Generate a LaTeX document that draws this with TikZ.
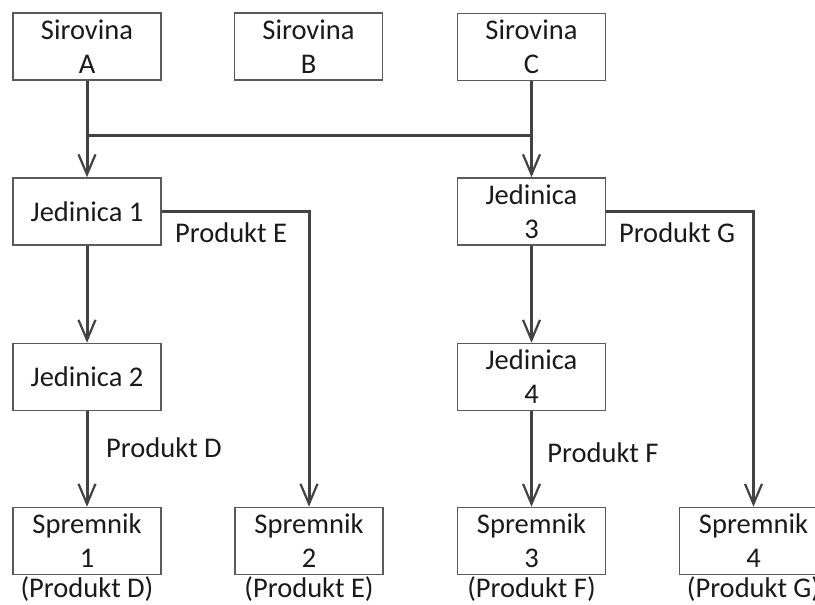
\documentclass[tikz,border=0pt]{standalone}
\usepackage{fontspec}
\setmainfont{Carlito}
\usetikzlibrary{arrows.meta}
\definecolor{boxgray}{HTML}{5A5A5A}
\definecolor{linegray}{HTML}{424242}
\definecolor{txt}{HTML}{1A1A1A}
\begin{document}
\begin{tikzpicture}[x=1pt,y=-1pt,
  box/.style={draw=boxgray, line width=1.6pt, minimum width=148pt, minimum height=67pt,
    inner sep=0pt, align=center, font=\fontsize{28.5}{34}\selectfont, text=txt},
  lbl/.style={inner sep=0pt, font=\fontsize{28.5}{34}\selectfont, text=txt},
  conn/.style={draw=linegray, line width=3pt},
  arr/.style={conn, -{Straight Barb[length=20pt,width=17pt,line width=2.2pt]}}]
\useasboundingbox (0,0) rectangle (815,605);
\clip (0,0) rectangle (815,605);
\fill[white] (0,0) rectangle (815,605);
% boxes
\node[box] (A) at (87,46.5) {Sirovina\\A};
\node[box] (B) at (308.5,46.5) {Sirovina\\B};
\node[box] (C) at (531.5,47) {Sirovina\\C};
\node[box] (J1) at (87,211.5) {Jedinica 1};
\node[box] (J3) at (531.5,211.5) {Jedinica\\3};
\node[box] (J2) at (87,377) {Jedinica 2};
\node[box] (J4) at (531.5,377) {Jedinica\\4};
\node[box] (S1) at (87,541) {Spremnik\\1};
\node[box] (S2) at (309,541) {Spremnik\\2};
\node[box] (S3) at (531.5,541) {Spremnik\\3};
\node[box] (S4) at (753.5,541) {Spremnik\\4};
% captions
\node[lbl] (c1) at (87,589) {(Produkt D)};
\node[lbl] (c2) at (309,589) {(Produkt E)};
\node[lbl] (c3) at (531.5,589) {(Produkt F)};
\node[lbl] (c4) at (753.5,589) {(Produkt G)};
% connector labels
\node[lbl] (lE) at (231,233) {Produkt E};
\node[lbl] (lG) at (677,233) {Produkt G};
\node[lbl] (lD) at (164,448) {Produkt D};
\node[lbl] (lF) at (603,453) {Produkt F};
% connectors
\coordinate (h) at (0,135);
\draw[arr] (A) -- (J1);
\draw[arr] (C) -- (J3);
\draw[conn] (A.south |- h) -- (C.south |- h);
\draw[arr] (J1) -- (J2);
\draw[arr] (J2) -- (S1);
\draw[arr] (J3) -- (J4);
\draw[arr] (J4) -- (S3);
\draw[arr] (J1.east) -| (S2.north);
\draw[arr] (J3.east) -| (S4.north);
\end{tikzpicture}
\end{document}
